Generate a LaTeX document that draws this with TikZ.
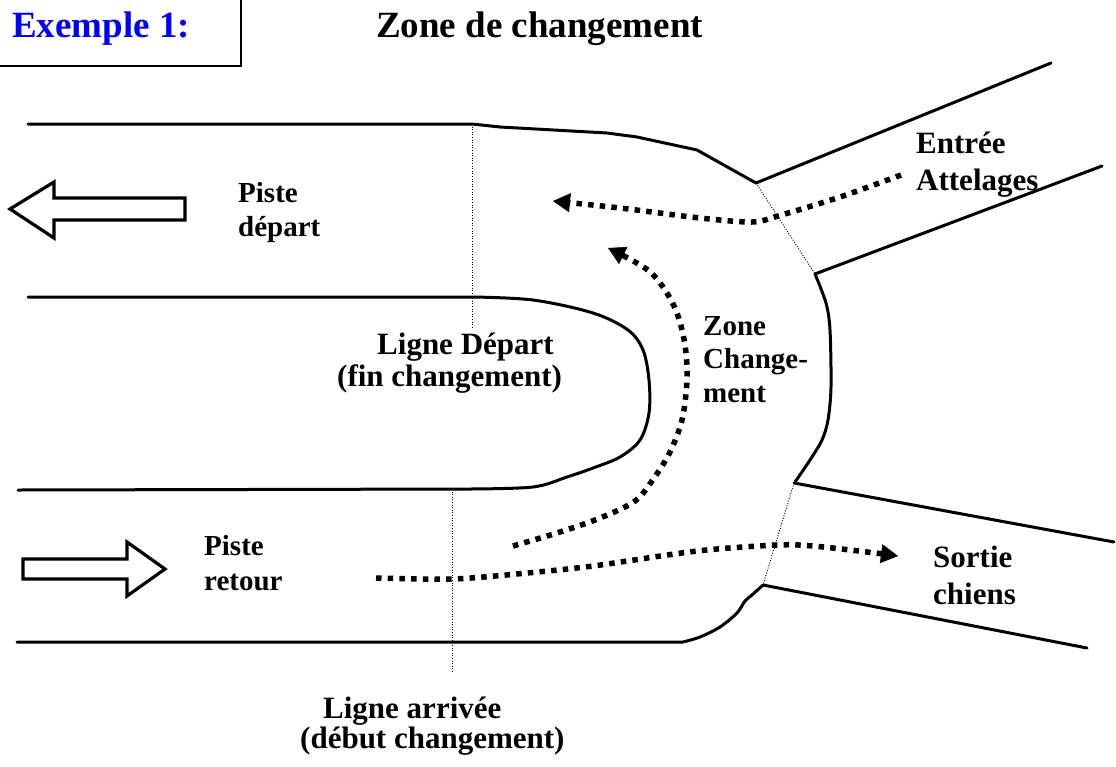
\documentclass[tikz,border=0pt]{standalone}
\usepackage{fontspec}
\setmainfont{Liberation Serif}
\usetikzlibrary{arrows.meta}
\begin{document}
\begin{tikzpicture}[x=1pt,y=-1pt,
  wall/.style={line width=3pt, line join=round, line cap=round},
  thindot/.style={line width=0.9pt, dash pattern=on 1pt off 1.6pt},
  flow/.style={line width=5.5pt, line cap=butt, dash pattern=on 5.5pt off 6.2pt,
    -{Triangle[length=17pt,width=19pt,line width=0.5pt]}},
  hollow/.style={line width=3.2pt, line join=miter, fill=white},
  lbl/.style={inner sep=0pt, anchor=base west, font=\bfseries\fontsize{29}{34}\selectfont},
  lblb/.style={inner sep=0pt, anchor=base west, font=\bfseries\fontsize{31}{36}\selectfont},
  big/.style={inner sep=0pt, anchor=base west, font=\bfseries\fontsize{37}{42}\selectfont}]
\useasboundingbox (0,0) rectangle (1116,766);
% title box
\draw[line width=1.5pt] (-5,-5) rectangle (241,66);
\node[big, text={rgb,255:red,0;green,0;blue,255}] (ex) at (12,37) {Exemple 1:};
\node[big] (title) at (376,37) {Zone de changement};
% outer top boundary
\draw[wall] (28,124) -- (472,124) -- (500,127) -- (607,133) -- (637,137) -- (697,150) -- (756,183);
% entree branches
\draw[wall] (756,183) -- (1051,63);
\draw[wall] (815,274) -- (1102,166);
% right boundary of zone
\draw[wall] plot[smooth, tension=0.5] coordinates {(815,274) (826,303) (830,330) (831,387) (828,420) (822,440) (810,460) (795,482)};
% sortie branches
\draw[wall] (794,483) -- (1114,542);
\draw[wall] (763,585) -- (1087,648);
% bottom boundary
\draw[wall] plot[smooth, tension=0.5] coordinates {(763,585) (752,595) (745,601) (737,613) (720,627) (700,637) (683,642)} -- (17,642);
% inner U
\draw[wall] (28,297) -- (472,297)
  plot[smooth, tension=0.55] coordinates {(472,297) (533,300) (593,313) (628,330) (643,350) (649,380) (649,413) (640,440) (620,457) (593,468) (567,477) (533,487) (470,489)}
  -- (18,490);
% thin dotted lines
\draw[thindot] (472,124) -- (472,327);
\draw[thindot] (452,489) -- (452,673);
\draw[thindot] (756,183) -- (815,274);
\draw[thindot] (794,483) -- (763,585);
% hollow arrows
\draw[hollow] (10,209) -- (54,182) -- (54,198) -- (185,198) -- (185,220) -- (54,220) -- (54,238) -- cycle;
\draw[hollow] (23,559) -- (127,559) -- (127,542) -- (165,569) -- (127,596) -- (127,579) -- (23,579) -- cycle;
% flow arrows
\draw[flow] plot[smooth, tension=0.5] coordinates {(901,175) (840,197) (778,216) (752,222) (700,218) (620,208) (553,201)};
\draw[flow] plot[smooth, tension=0.55] coordinates {(513,546) (560,532) (600,518) (635,501) (654,478) (670,452) (682,420) (687,380) (685,345) (677,313) (663,287) (645,268) (608,248)};
\draw[flow] plot[smooth, tension=0.5] coordinates {(376,578) (453,579) (527,573) (593,566) (697,551) (777,545) (813,546) (867,552) (898,556)};
% labels
\node[lbl] (pd1) at (238,202) {Piste};
\node[lbl] (pd2) at (238,236) {départ};
\node[lbl] (pr1) at (204,555) {Piste};
\node[lbl] (pr2) at (204,590) {retour};
\node[lblb] (ld1) at (377,354) {Ligne Départ};
\node[lblb] (ld2) at (337,386) {(fin changement)};
\node[lbl] (zc1) at (703,335) {Zone};
\node[lbl] (zc2) at (703,368) {Change-};
\node[lbl] (zc3) at (703,402) {ment};
\node[lblb] (ea1) at (916,153) {Entrée};
\node[lblb] (ea2) at (916,190) {Attelages};
\node[lblb] (sc1) at (933,567) {Sortie};
\node[lblb] (sc2) at (933,604) {chiens};
\node[lblb] (la1) at (323,718) {Ligne arrivée};
\node[lblb] (la2) at (300,748) {(début changement)};
\end{tikzpicture}
\end{document}
